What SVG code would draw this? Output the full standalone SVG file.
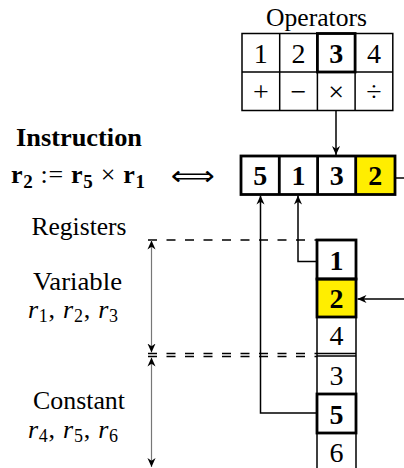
<svg xmlns="http://www.w3.org/2000/svg" width="404" height="468" viewBox="0 0 404 468" font-family="'Liberation Serif', 'DejaVu Serif', serif">
<defs>
<style>
text{font-family:'Liberation Serif','DejaVu Serif',serif;fill:#000}
.lbl{font-size:26px}
.num{font-size:28px;text-anchor:middle}
.b{font-weight:bold}
.cell{fill:#fff;stroke:#000;stroke-width:1.5}
.bold{fill:none;stroke:#000;stroke-width:2.8}
.yel{fill:#FFEE00}
.conn{fill:none;stroke:#000;stroke-width:1.5}
.dash{fill:none;stroke:#000;stroke-width:1.6;stroke-dasharray:9 9.5}
.span{fill:none;stroke:#777;stroke-width:1.2}
</style>
<marker id="ah" viewBox="0 0 10 10" refX="10" refY="5" markerWidth="9" markerHeight="9" markerUnits="userSpaceOnUse" orient="auto-start-reverse">
<path d="M0,0.5 L10,5 L0,9.5 L3,5 z" fill="#000"/>
</marker>
</defs>
<rect width="404" height="468" fill="#fff"/>

<g id="operators">
<text class="lbl" x="266" y="26" textLength="101" lengthAdjust="spacingAndGlyphs">Operators</text>
<rect class="cell" x="242" y="33.5" width="150.8" height="77"/>
<path class="conn" d="M279.7,33.5V110.5M317.4,33.5V110.5M355.1,33.5V110.5M242,72H392.8"/>
<rect class="bold" x="317.4" y="33.5" width="37.7" height="38.5"/>
<text class="num" x="260.8" y="62.5">1</text>
<text class="num" x="298.5" y="62.5">2</text>
<text class="num b" x="336.2" y="62.5">3</text>
<text class="num" x="374" y="62.5">4</text>
<text class="num" x="260.8" y="101">+</text>
<text class="num" x="298.5" y="101">−</text>
<text class="num" x="336.2" y="101">×</text>
<text class="num" x="374" y="101">÷</text>
</g>

<g id="instruction-label">
<text class="lbl b" x="16" y="146" font-size="27" textLength="126" lengthAdjust="spacingAndGlyphs">Instruction</text>
<text class="lbl" x="11" y="183" font-size="28" textLength="134" lengthAdjust="spacing"><tspan class="b">r</tspan><tspan class="b" font-size="19" dy="5">2</tspan><tspan dy="-5"> := </tspan><tspan class="b">r</tspan><tspan class="b" font-size="19" dy="5">5</tspan><tspan dy="-5"> × </tspan><tspan class="b">r</tspan><tspan class="b" font-size="19" dy="5">1</tspan></text>
<text x="171" y="185" style="font-family:'DejaVu Sans',sans-serif" font-size="27" textLength="44" lengthAdjust="spacingAndGlyphs">⟺</text>
</g>

<g id="instruction">
<rect class="yel" x="355.7" y="156" width="39.3" height="38.5"/>
<rect class="bold" x="241" y="156" width="154" height="38.5"/>
<path class="bold" d="M279.3,156V194.5M317.6,156V194.5M355.7,156V194.5"/>
<text class="num b" x="260.2" y="185">5</text>
<text class="num b" x="298.5" y="185">1</text>
<text class="num b" x="336.7" y="185">3</text>
<text class="num b" x="375.3" y="185">2</text>
</g>

<g id="registers-label">
<text class="lbl" x="31.5" y="235" textLength="95" lengthAdjust="spacingAndGlyphs">Registers</text>
<text class="lbl" x="33" y="289.5" textLength="89" lengthAdjust="spacingAndGlyphs">Variable</text>
<text class="lbl" x="28" y="318" textLength="90" lengthAdjust="spacing"><tspan font-style="italic">r</tspan><tspan font-size="18" dy="4">1</tspan><tspan dy="-4">, </tspan><tspan font-style="italic">r</tspan><tspan font-size="18" dy="4">2</tspan><tspan dy="-4">, </tspan><tspan font-style="italic">r</tspan><tspan font-size="18" dy="4">3</tspan></text>
<text class="lbl" x="33" y="408.5" textLength="92" lengthAdjust="spacingAndGlyphs">Constant</text>
<text class="lbl" x="28" y="437.5" textLength="90" lengthAdjust="spacing"><tspan font-style="italic">r</tspan><tspan font-size="18" dy="4">4</tspan><tspan dy="-4">, </tspan><tspan font-style="italic">r</tspan><tspan font-size="18" dy="4">5</tspan><tspan dy="-4">, </tspan><tspan font-style="italic">r</tspan><tspan font-size="18" dy="4">6</tspan></text>
</g>

<g id="registers">
<rect class="yel" x="317" y="279" width="39" height="38"/>
<path class="conn" d="M317,240V470M356,240V470M317,317H356M317,353.5H356M317,356H356M317,394H356M317,433H356"/>
<rect class="bold" x="317" y="240" width="39" height="39"/>
<rect class="bold" x="317" y="279" width="39" height="38"/>
<rect class="bold" x="317" y="394" width="39" height="39"/>
<text class="num b" x="336.5" y="269.5">1</text>
<text class="num b" x="336.5" y="308">2</text>
<text class="num" x="336.5" y="345">4</text>
<text class="num" x="336.5" y="385">3</text>
<text class="num b" x="336.5" y="423.5">5</text>
<text class="num" x="336.5" y="462">6</text>
</g>

<g id="connectors">
<path class="dash" d="M148,240H317"/>
<path class="dash" d="M148,353.5H317M148,356.5H317"/>
<path class="span" d="M151.5,240.5V352.5" marker-start="url(#ah)" marker-end="url(#ah)"/>
<path class="span" d="M151.5,357.5V467" marker-start="url(#ah)" marker-end="url(#ah)"/>
<path class="conn" d="M336,110.5V155" marker-end="url(#ah)"/>
<path class="conn" d="M317,261.5H298V195.5" marker-end="url(#ah)"/>
<path class="conn" d="M317,413H260.5V195.5" marker-end="url(#ah)"/>
<path class="conn" d="M404,299H357.5" marker-end="url(#ah)"/>
<path class="conn" d="M395,178H404"/>
</g>
</svg>
